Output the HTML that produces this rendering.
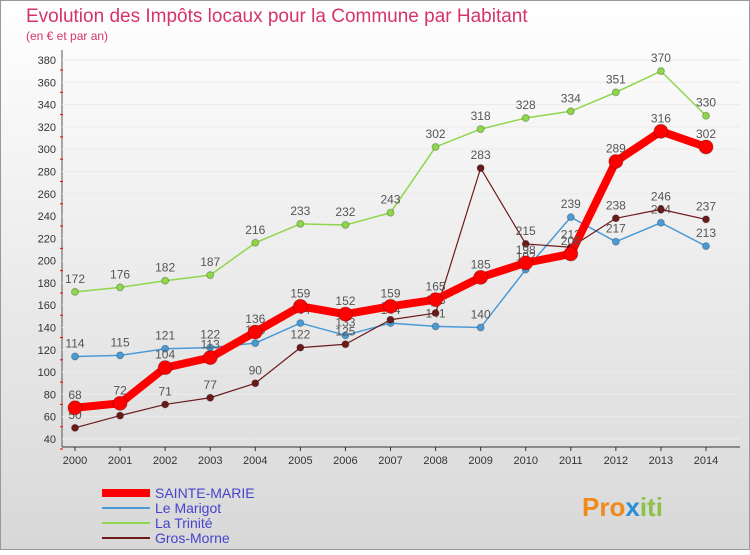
<!DOCTYPE html>
<html><head><meta charset="utf-8">
<style>
body{margin:0;width:750px;height:550px;overflow:hidden;font-family:"Liberation Sans",sans-serif;}
</style></head>
<body>
<svg width="750" height="550" xmlns="http://www.w3.org/2000/svg" font-family="Liberation Sans, sans-serif">
<defs>
<linearGradient id="bg" x1="0" y1="0" x2="0" y2="1"><stop offset="0" stop-color="#ffffff"/><stop offset="1" stop-color="#d8d8d8"/></linearGradient>
</defs>
<rect x="0.5" y="0.5" width="749" height="549" fill="url(#bg)" stroke="#999"/>
<text x="26" y="22" font-size="19" fill="#d6336c">Evolution des Impôts locaux pour la Commune par Habitant</text>
<text x="26" y="40" font-size="12" fill="#d6336c">(en € et par an)</text>
<g id="grid"></g><g id="axes"></g><g id="series"></g><g id="legend"></g>
<text x="582" y="516" font-size="26" font-weight="bold" fill="#f08a1c">Pro<tspan fill="#2a8fd6">x</tspan><tspan fill="#8bc34a">iti</tspan></text>
</svg>
<script>
const years=[2000,2001,2002,2003,2004,2005,2006,2007,2008,2009,2010,2011,2012,2013,2014];
const sainteMarie=[68,72,104,113,136,159,152,159,165,185,198,206,289,316,302];
const leMarigot=[114,115,121,122,126,144,133,144,141,140,192,239,217,234,213];
const laTrinite=[172,176,182,187,216,233,232,243,302,318,328,334,351,370,330];
const grosMorne=[50,61,71,77,90,122,125,147,153,283,215,212,238,246,237];
const yTicks=[40,60,80,100,120,140,160,180,200,220,240,260,280,300,320,340,360,380];
const NS="http://www.w3.org/2000/svg";
const X0=75,X1=706,Y0=439,Y1=60,VMIN=40,VMAX=380;
const xs=i=>X0+(X1-X0)*i/(years.length-1);
const ys=v=>Y0-(v-VMIN)*(Y0-Y1)/(VMAX-VMIN);
function mk(tag,attrs,parent){const e=document.createElementNS(NS,tag);for(const k in attrs)e.setAttribute(k,attrs[k]);parent.appendChild(e);return e;}
const grid=document.getElementById('grid'),axes=document.getElementById('axes'),ser=document.getElementById('series'),leg=document.getElementById('legend');
mk('line',{x1:62,x2:62,y1:50,y2:447,stroke:'#555'},grid);
yTicks.forEach(v=>{
  const l=mk('line',{x1:62,x2:740,y1:ys(v),y2:ys(v),stroke:'#ebebeb'},grid);
  
  
  const t=mk('text',{x:56,y:ys(v)+4,'font-size':11,'text-anchor':'end',fill:'#333'},axes);
  t.textContent=v;
  
  
  mk('line',{x1:60,x2:63,y1:ys(v)+10,y2:ys(v)+10,stroke:'#e00'},axes);
});
mk('line',{x1:62,x2:740,y1:447,y2:447,stroke:'#333'},axes);
years.forEach((y,i)=>{
  mk('line',{x1:xs(i),x2:xs(i),y1:447,y2:451,stroke:'#333'},axes);
  const t=mk('text',{x:xs(i),y:464,'font-size':11,'text-anchor':'middle',fill:'#333'},axes);
  t.textContent=y;
  
  
});
function draw(name,data,color,w,r){
  const g=mk('g',{},ser);
  
  
  mk('polyline',{points:data.map((v,i)=>xs(i)+','+ys(v)).join(' '),fill:'none',stroke:color,'stroke-width':w,'stroke-linejoin':'round'},g);
  data.forEach((v,i)=>{
    const c=mk('circle',{cx:xs(i),cy:ys(v),r:r,fill:color,stroke:'rgba(0,0,0,0.25)'},g);
    
    
    const t=mk('text',{x:xs(i),y:ys(v)-9,'font-size':12,'text-anchor':'middle',fill:'#555'},g);
    t.textContent=v;
    
    
  });
}
draw('la-trinite-series',laTrinite,'#8ed64a',1.5,3.5);
draw('le-marigot-series',leMarigot,'#4a9ad6',1.5,3.5);
draw('gros-morne-series',grosMorne,'#6b1a1a',1.2,3.5);
draw('sainte-marie-series',sainteMarie,'#ff0000',8,7);
const legs=[['SAINTE-MARIE','#ff0000',8],['Le Marigot','#4a9ad6',2],['La Trinité','#8ed64a',2],['Gros-Morne','#6b1a1a',2]];
legs.forEach((l,i)=>{
  const y=493+i*15;
  const g=mk('g',{},leg);
  
  
  mk('line',{x1:102,x2:150,y1:y,y2:y,stroke:l[1],'stroke-width':l[2]},g);
  const t=mk('text',{x:155,y:y+5,'font-size':14,fill:'#4444cc'},g);
  t.textContent=l[0];
});
</script>
</body></html>
